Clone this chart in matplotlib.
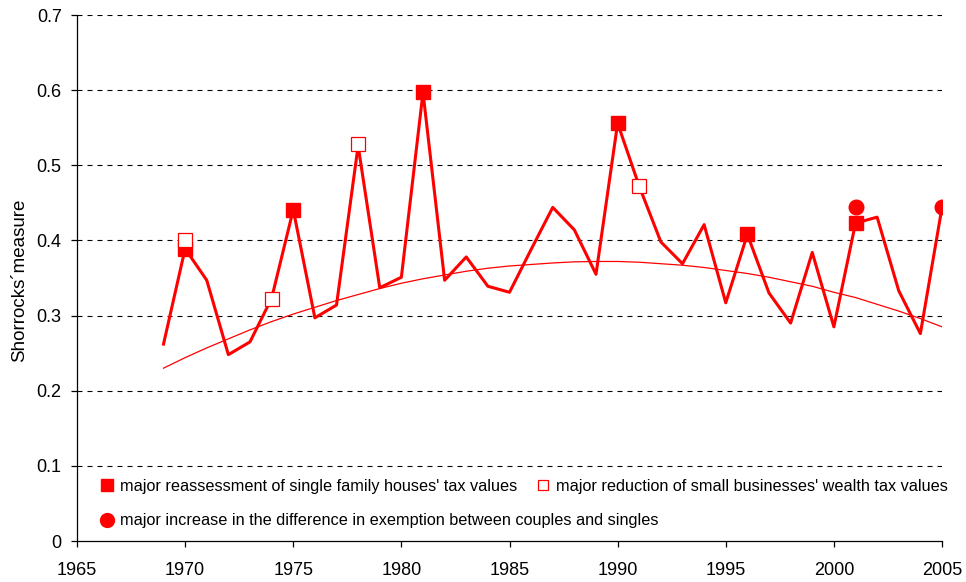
import matplotlib
matplotlib.use("Agg")
import matplotlib.pyplot as plt
from matplotlib.lines import Line2D

plt.rcParams["font.family"] = ["Liberation Sans", "DejaVu Sans"]

# yearly Shorrocks measure
years = list(range(1969, 2006))
shorrocks = [0.262, 0.389, 0.347, 0.248, 0.265, 0.323, 0.441, 0.297, 0.314, 0.526,
             0.337, 0.351, 0.597, 0.347, 0.378, 0.339, 0.331, 0.388, 0.444, 0.414,
             0.355, 0.556, 0.472, 0.398, 0.369, 0.421, 0.317, 0.408, 0.330, 0.290,
             0.384, 0.285, 0.423, 0.431, 0.333, 0.276, 0.444]

# polynomial trendline per year
trend = [0.230, 0.244, 0.257, 0.269, 0.281, 0.292, 0.302, 0.311, 0.320, 0.328,
         0.336, 0.343, 0.349, 0.354, 0.359, 0.363, 0.366, 0.368, 0.370, 0.3715,
         0.372, 0.372, 0.371, 0.369, 0.367, 0.364, 0.360, 0.356, 0.351, 0.345,
         0.339, 0.331, 0.324, 0.315, 0.306, 0.296, 0.285]

# event markers
reassess_years = [1970, 1975, 1981, 1990, 1996, 2001]
reassess_vals = [0.389, 0.441, 0.597, 0.556, 0.408, 0.423]
reduction_years = [1970, 1974, 1978, 1991]
reduction_vals = [0.400, 0.322, 0.528, 0.472]
exemption_years = [2001, 2005]
exemption_vals = [0.445, 0.444]

lab_reassess = "major reassessment of single family houses' tax values"
lab_reduction = "major reduction of small businesses' wealth tax values"
lab_exemption = "major increase in the difference in exemption between couples and singles"

red = "#ff0000"

fig = plt.figure(figsize=(9.66, 5.82), dpi=100)
ax = fig.add_axes([77/966, 1-541/582, (942-77)/966, (541-15)/582])

ax.plot(years, trend, color=red, lw=0.9, zorder=3)
ax.plot(years, shorrocks, color=red, lw=2.2, zorder=4)
ax.plot(reassess_years, reassess_vals, ls="none", marker="s", ms=10.3,
        mfc=red, mec=red, zorder=5)
ax.plot(reduction_years, reduction_vals, ls="none", marker="s", ms=9.8,
        mfc="white", mec=red, mew=0.9, zorder=6)
ax.plot(exemption_years, exemption_vals, ls="none", marker="o", ms=10.5,
        mfc=red, mec=red, zorder=6)

ax.set_xlim(1965, 2005)
ax.set_ylim(0, 0.7)
ax.set_xticks(range(1965, 2006, 5))
yt = [0, 0.1, 0.2, 0.3, 0.4, 0.5, 0.6, 0.7]
ax.set_yticks(yt)
ax.set_yticklabels(["0"] + [f"{v:.1f}" for v in yt[1:]])
ax.tick_params(axis="both", labelsize=13, direction="out", length=4, width=0.9)
ax.tick_params(axis="y", pad=7)
ax.tick_params(axis="x", pad=11)

for v in yt[1:]:
    ax.axhline(v, color="black", lw=0.8, ls=(0, (4.5, 4.5)), zorder=1)

for s in ["top", "right"]:
    ax.spines[s].set_visible(False)
for s in ["left", "bottom"]:
    ax.spines[s].set_linewidth(0.9)

ax.set_ylabel("Shorrocks´measure", fontsize=13.5)
ax.yaxis.set_label_coords(-0.057, 0.496)

# legend: two rows laid out like the original (row-wise)
h_reassess = Line2D([], [], ls="none", marker="s", ms=8, mfc=red, mec=red)
h_reduction = Line2D([], [], ls="none", marker="s", ms=7.5, mfc="white", mec=red, mew=0.9)
h_exemption = Line2D([], [], ls="none", marker="o", ms=10, mfc=red, mec=red)

leg_kw = dict(frameon=False, fontsize=11.7, handlelength=0.8, handletextpad=0.4,
              borderpad=0, loc="center left")
leg1 = ax.legend([h_reassess, h_reduction], [lab_reassess, lab_reduction], ncol=2,
                 columnspacing=1.15, bbox_to_anchor=(0.018, (541-486)/526), **leg_kw)
ax.add_artist(leg1)
ax.legend([h_exemption], [lab_exemption],
          bbox_to_anchor=(0.018, (541-521)/526), **leg_kw)

fig.savefig("out.png", dpi=100)
